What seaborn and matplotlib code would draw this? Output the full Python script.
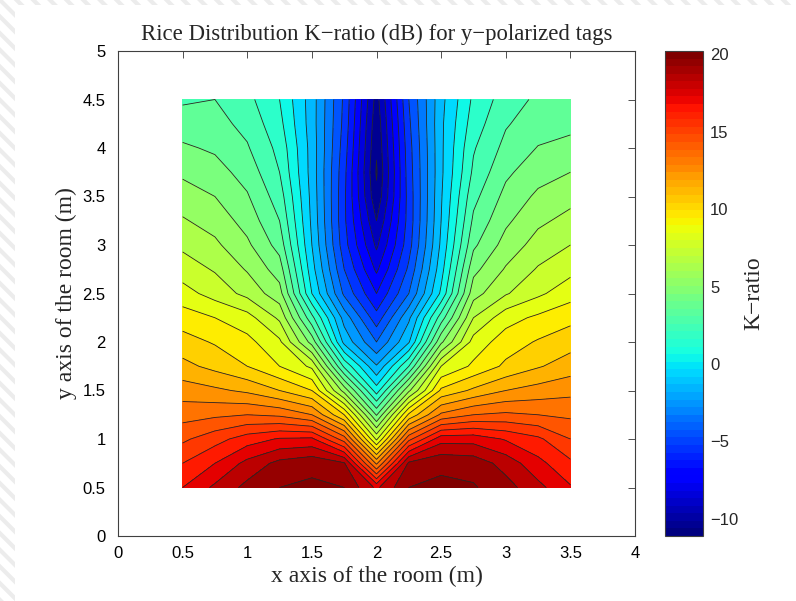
import numpy as np
import matplotlib
matplotlib.use("Agg")
import matplotlib.pyplot as plt
import seaborn as sns
from matplotlib.colors import Normalize, ListedColormap
from matplotlib.cm import ScalarMappable
from matplotlib.patches import Rectangle

# Measurement grid (m)
x_pos = [0.5, 0.75, 1.0, 1.25, 1.5, 1.75, 2.0, 2.25, 2.5, 2.75, 3.0, 3.25, 3.5]
y_pos = [0.5, 0.75, 1.0, 1.25, 1.5, 1.75, 2.0, 2.25, 2.5, 2.75, 3.0, 3.25, 3.5,
         3.75, 4.0, 4.25, 4.5]

# Rice K-ratio (dB), one list per y row, values along x
k_y050 = [17.0, 18.2, 19.3, 20.0, 20.2, 20.0, 17.8, 20.0, 20.2, 20.1, 19.4, 18.3, 17.1]
k_y075 = [16.0, 17.0, 18.3, 19.3, 19.7, 19.1, 12.8, 19.2, 19.8, 19.6, 18.6, 17.3, 16.2]
k_y100 = [14.8, 15.6, 16.5, 17.1, 17.2, 14.5, 7.8, 14.7, 17.6, 17.6, 16.9, 16.2, 15.0]
k_y125 = [13.6, 13.8, 14.0, 13.8, 13.0, 10.0, 3.9, 10.2, 13.2, 14.0, 14.2, 14.0, 13.8]
k_y150 = [12.5, 12.2, 11.8, 11.0, 10.0, 5.6, 0.5, 5.8, 10.2, 11.2, 12.0, 12.4, 12.7]
k_y175 = [11.3, 10.7, 10.0, 9.0, 7.8, 1.8, -1.9, 2.0, 8.0, 9.2, 10.2, 10.9, 11.5]
k_y200 = [10.4, 9.9, 9.3, 8.2, 4.6, -1.3, -4.0, -1.1, 4.8, 8.4, 9.5, 10.1, 10.6]
k_y225 = [9.5, 9.0, 8.4, 6.8, 2.3, -2.4, -5.6, -2.2, 2.5, 7.0, 8.6, 9.2, 9.7]
k_y250 = [8.4, 7.6, 6.7, 5.4, 0.0, -4.2, -7.0, -4.0, 0.2, 5.6, 6.9, 7.8, 8.6]
k_y275 = [7.5, 6.9, 5.9, 4.5, -0.6, -5.0, -8.2, -4.8, -0.4, 4.7, 6.1, 7.1, 7.7]
k_y300 = [6.8, 6.2, 5.2, 3.6, -1.0, -5.6, -9.2, -5.4, -0.8, 3.8, 5.4, 6.4, 7.0]
k_y325 = [6.1, 5.6, 4.6, 3.0, -1.2, -5.8, -10.0, -5.6, -1.0, 3.2, 4.8, 5.8, 6.3]
k_y350 = [5.5, 5.0, 4.1, 2.5, -1.3, -5.8, -10.8, -5.6, -1.1, 2.7, 4.3, 5.2, 5.7]
k_y375 = [4.8, 4.4, 3.6, 2.0, -1.4, -5.7, -11.1, -5.5, -1.2, 2.2, 3.8, 4.6, 5.0]
k_y400 = [4.15, 3.85, 3.1, 1.7, -1.4, -5.5, -10.9, -5.4, -1.2, 1.9, 3.3, 4.05, 4.35]
k_y425 = [3.5, 3.35, 2.7, 1.3, -1.5, -5.3, -10.7, -5.2, -1.2, 1.5, 2.9, 3.55, 3.7]
k_y450 = [2.85, 3.0, 2.3, 1.0, -1.5, -5.2, -10.4, -5.0, -1.3, 1.2, 2.5, 3.2, 3.0]

cbar_ticks = [-10, -5, 0, 5, 10, 15, 20]

K = np.array([k_y050, k_y075, k_y100, k_y125, k_y150, k_y175, k_y200, k_y225,
              k_y250, k_y275, k_y300, k_y325, k_y350, k_y375, k_y400, k_y425,
              k_y450])
X, Y = np.meshgrid(x_pos, y_pos)

sns.set_theme(style="white")
plt.rcParams["font.family"] = ["Liberation Sans", "DejaVu Sans"]
plt.rcParams["hatch.linewidth"] = 3.0
plt.rcParams["hatch.color"] = "#ececec"
plt.rcParams["contour.negative_linestyle"] = "solid"

W, H = 796, 601
fig = plt.figure(figsize=(W / 100, H / 100), dpi=100)

# striped page background with white sheet on top
fig.patches.append(Rectangle((0, 0), 1, 1, transform=fig.transFigure,
                             facecolor="white", edgecolor="#ececec",
                             hatch="\\\\", linewidth=0, zorder=-10))
fig.patches.append(Rectangle((15 / W, 0), 1, 1 - 5 / H, transform=fig.transFigure,
                             facecolor="white", edgecolor="none", zorder=-9))

jet = matplotlib.colormaps["jet"]
vmin, vmax = K.min(), K.max()
norm = Normalize(vmin=vmin, vmax=vmax)
levels = np.arange(-12, 22, 1)

ax = fig.add_axes([118 / W, 1 - 536 / H, (635 - 118) / W, (536 - 51) / H])
ax.contourf(X, Y, K, levels=levels, cmap=jet, norm=norm)
ax.contour(X, Y, K, levels=levels, colors="0.15", linewidths=0.6,
           linestyles="solid")

ax.set_xlim(0, 4)
ax.set_ylim(0, 5)
ax.set_xticks(np.arange(0, 4.01, 0.5))
ax.set_yticks(np.arange(0, 5.01, 0.5))
ax.set_xticklabels(["0", "0.5", "1", "1.5", "2", "2.5", "3", "3.5", "4"])
ax.set_yticklabels(["0", "0.5", "1", "1.5", "2", "2.5", "3", "3.5", "4", "4.5", "5"])
ax.tick_params(direction="in", top=True, right=True, length=5, width=0.6,
               color="0.2", labelsize=12, labelcolor="black")
ax.tick_params(axis="x", pad=7)
ax.tick_params(axis="y", pad=9)
for s in ax.spines.values():
    s.set_color("0.25")
    s.set_linewidth(0.8)

serif = ["Liberation Serif", "DejaVu Serif"]
ax.set_title("Rice Distribution K\u2212ratio (dB) for y\u2212polarized tags",
             fontfamily=serif, fontsize=16.4, pad=8)
ax.set_xlabel("x axis of the room (m)", fontfamily=serif, fontsize=17, labelpad=4)
ax.set_ylabel("y axis of the room (m)", fontfamily=serif, fontsize=17, labelpad=4)

# colour bar
cax = fig.add_axes([665 / W, 1 - 536 / H, (703 - 665) / W, (536 - 51) / H])
sm = ScalarMappable(norm=norm, cmap=ListedColormap(jet(np.linspace(0, 1, 64))))
cb = fig.colorbar(sm, cax=cax, ticks=cbar_ticks)
cb.outline.set_edgecolor("0.25")
cb.outline.set_linewidth(0.8)
cax.tick_params(direction="in", left=True, right=True, length=4, width=0.6,
                color="0.2", labelsize=12, pad=5)
cax.set_ylabel("K\u2212ratio", fontfamily=serif, fontsize=17, labelpad=4)

fig.savefig("out.png", dpi=100)
